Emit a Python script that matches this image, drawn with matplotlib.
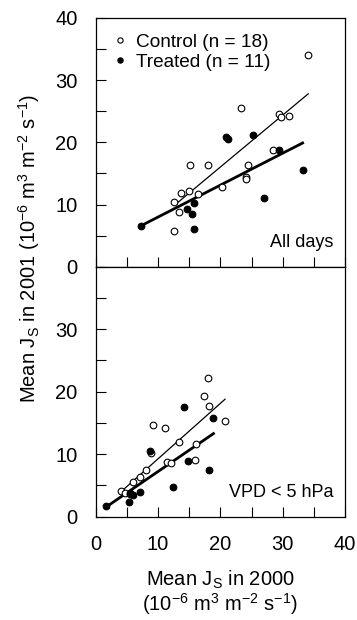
import numpy as np
import matplotlib
matplotlib.use("Agg")
import matplotlib.pyplot as plt
from matplotlib.ticker import MultipleLocator
from matplotlib.lines import Line2D

plt.rcParams['font.family'] = ['Liberation Sans', 'DejaVu Sans']
plt.rcParams['mathtext.fontset'] = 'custom'
plt.rcParams['mathtext.rm'] = 'Liberation Sans'
plt.rcParams['mathtext.it'] = 'Liberation Sans:italic'
plt.rcParams['font.size'] = 13

# all days (top panel)
ctl_all_x = [34.0, 23.3, 29.4, 29.8, 31.0, 28.5, 24.4, 24.1, 24.1, 15.2,
             18.1, 20.2, 16.4, 14.9, 13.7, 12.5, 13.3, 12.5]
ctl_all_y = [34.0, 25.5, 24.5, 24.1, 24.2, 18.8, 16.4, 14.5, 14.1, 16.3,
             16.3, 12.8, 11.7, 12.2, 11.8, 10.4, 8.8, 5.8]
trt_all_x = [7.3, 14.6, 15.7, 15.4, 15.8, 20.9, 21.3, 25.2, 29.4, 27.0, 33.3]
trt_all_y = [6.6, 9.3, 10.2, 8.5, 6.0, 20.9, 20.5, 21.2, 18.8, 11.1, 15.5]

# VPD < 5 hPa (bottom panel)
ctl_vpd_x = [18.1, 17.3, 18.2, 20.8, 9.2, 11.2, 13.4, 16.1, 8.8, 11.4,
             12.1, 16.0, 8.0, 7.1, 6.0, 4.0, 4.7, 5.5]
ctl_vpd_y = [22.2, 19.3, 17.7, 15.3, 14.6, 14.2, 11.9, 11.6, 10.2, 8.8,
             8.6, 9.1, 7.4, 6.3, 5.6, 4.1, 3.8, 3.7]
trt_vpd_x = [1.6, 5.3, 5.5, 6.0, 7.1, 8.7, 12.4, 14.2, 14.8, 18.9, 18.2]
trt_vpd_y = [1.7, 2.4, 3.8, 3.5, 3.9, 10.5, 4.8, 17.5, 8.9, 15.8, 7.4]

# regression lines: (slope, intercept, x from, x to)
fit_ctl_all = (0.835, -0.67, 12.9, 34.1)
fit_trt_all = (0.5135, 2.85, 7.3, 33.2)
fit_ctl_vpd = (0.887, 0.39, 3.9, 20.75)
fit_trt_vpd = (0.682, 0.41, 1.6, 18.9)

fig = plt.figure(figsize=(3.57, 6.2), dpi=100)
ax1 = fig.add_axes([0.268, 0.5698, 0.6984, 0.4012])
ax2 = fig.add_axes([0.268, 0.1666, 0.6984, 0.4032])


def panel(ax, cx, cy, tx, ty, fc, ft, label):
    for (slope, icpt, x0, x1), lw in [(fc, 0.9), (ft, 2.0)]:
        xs = np.array([x0, x1])
        ax.plot(xs, slope * xs + icpt, color='black', lw=lw, zorder=2)
    ax.plot(cx, cy, 'o', ms=4.8, mfc='white', mec='black', mew=0.8, ls='none', zorder=3)
    ax.plot(tx, ty, 'o', ms=4.8, mfc='black', mec='black', mew=0.8, ls='none', zorder=4)
    ax.set_xlim(0, 40)
    ax.set_ylim(0, 40)
    ax.xaxis.set_major_locator(MultipleLocator(10))
    ax.xaxis.set_minor_locator(MultipleLocator(5))
    ax.yaxis.set_major_locator(MultipleLocator(10))
    ax.yaxis.set_minor_locator(MultipleLocator(5))
    ax.tick_params(which='both', direction='in', length=7, width=0.8,
                   top=False, right=False, pad=13, labelsize=14.5)
    for s in ax.spines.values():
        s.set_linewidth(0.9)
    ax.text(38.1, 3.2, label, ha='right', va='baseline', fontsize=13)


panel(ax1, ctl_all_x, ctl_all_y, trt_all_x, trt_all_y, fit_ctl_all, fit_trt_all, "All days")
panel(ax2, ctl_vpd_x, ctl_vpd_y, trt_vpd_x, trt_vpd_y, fit_ctl_vpd, fit_trt_vpd, "VPD < 5 hPa")

ax1.tick_params(axis='x', labelbottom=False)
ax2.set_yticks([0, 10, 20, 30])

handles = [Line2D([], [], marker='o', ls='none', ms=3.8, mfc='white', mec='black', mew=0.8),
           Line2D([], [], marker='o', ls='none', ms=3.8, mfc='black', mec='black', mew=0.8)]
ax1.legend(handles, ["Control (n = 18)", "Treated (n = 11)"], loc='upper left',
           bbox_to_anchor=(0.005, 1.0), frameon=False, handlelength=0.8,
           handletextpad=0.45, labelspacing=0.15, fontsize=13.7, borderaxespad=0.4)

unit = r"(10$^{\mathregular{-6}}$ m$^{\mathregular{3}}$ m$^{\mathregular{-2}}$ s$^{\mathregular{-1}}$)"
fig.text(0.08, 1 - 248 / 620, r"Mean J$_{\mathregular{S}}$ in 2001 " + unit,
         rotation=90, ha='center', va='center', fontsize=14.5)
fig.text(0.617, 1 - 586 / 620, r"Mean J$_{\mathregular{S}}$ in 2000", ha='center', va='baseline', fontsize=14.5)
fig.text(0.617, 1 - 610.5 / 620, unit, ha='center', va='baseline', fontsize=14.5)

fig.savefig("out.png", dpi=100)
